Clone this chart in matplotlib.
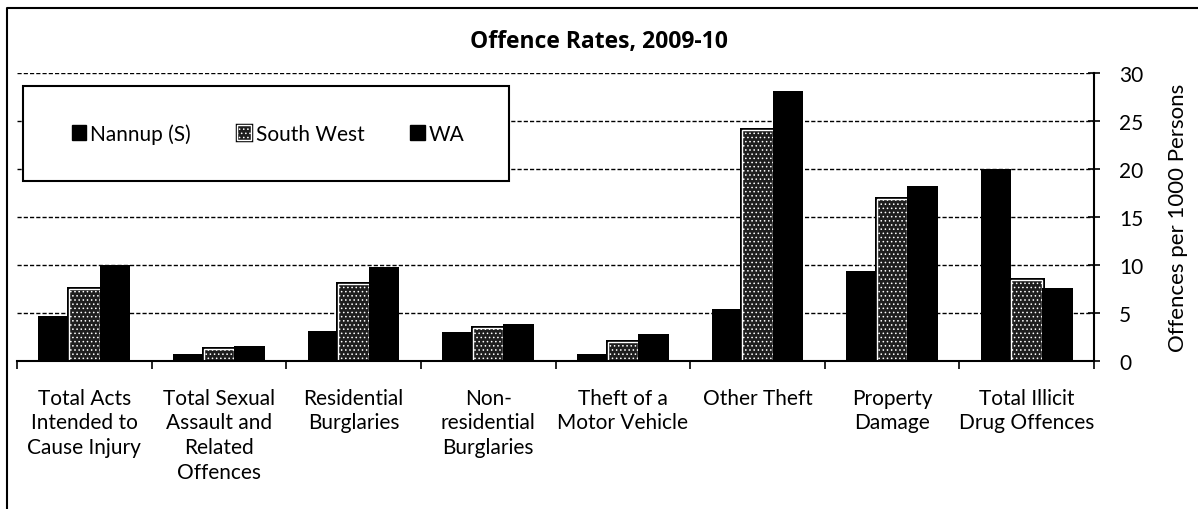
import matplotlib
matplotlib.use("Agg")
import matplotlib.pyplot as plt
import matplotlib.patheffects as pe
from matplotlib.patches import Rectangle, Patch
from matplotlib.lines import Line2D
import numpy as np

plt.rcParams['font.family'] = ['Lato', 'DejaVu Sans']
plt.rcParams['hatch.color'] = '#4a4a4a'
plt.rcParams['hatch.linewidth'] = 0.6

# data
categories = ["Total Acts\nIntended to\nCause Injury",
              "Total Sexual\nAssault and\nRelated\nOffences",
              "Residential\nBurglaries",
              "Non-\nresidential\nBurglaries",
              "Theft of a\nMotor Vehicle",
              "Other Theft",
              "Property\nDamage",
              "Total Illicit\nDrug Offences"]
nannup = [4.75, 0.76, 3.2, 3.1, 0.8, 5.4, 9.4, 20.0]
south_west = [7.5, 1.3, 8.05, 3.45, 2.05, 24.1, 16.85, 8.5]
wa = [10.0, 1.6, 9.8, 3.85, 2.8, 28.1, 18.2, 7.65]
yticks = [0, 5, 10, 15, 20, 25, 30]

W, H = 1198, 510
fig = plt.figure(figsize=(W / 100, H / 100), dpi=100)
ax = fig.add_axes([17 / W, 1 - 362.3 / H, 1077 / W, 288.3 / H])

x = np.arange(len(categories))
bw = 0.227

ax.bar(x - bw, nannup, bw, color='black', zorder=3, label='Nannup (S)')
sw = ax.bar(x, south_west, bw, facecolor='#1e1e1e', edgecolor='white',
            linewidth=1.0, hatch='....', zorder=3, label='South West')
for b in sw:
    b.set_path_effects([pe.Stroke(linewidth=3.6, foreground='black'), pe.Normal()])
ax.bar(x + bw, wa, bw, color='black', zorder=3, label='WA')

ax.set_xlim(-0.5, len(categories) - 0.5)
ax.set_ylim(0, 30)

# axes styling
for s in ['left', 'top']:
    ax.spines[s].set_visible(False)
ax.spines['bottom'].set_linewidth(1.5)
ax.spines['right'].set_linewidth(1.5)
ax.spines['bottom'].set_zorder(4)

ax.yaxis.tick_right()
ax.yaxis.set_label_position('right')
ax.set_yticks(yticks)
ax.tick_params(axis='y', direction='inout', length=8, width=1.2, labelsize=15, pad=14)
ax.set_ylabel('Offences per 1000 Persons', fontsize=16, labelpad=18)

ax.set_xticks(x)
ax.set_xticklabels(categories, fontsize=15, linespacing=1.3, va='top')
ax.tick_params(axis='x', which='major', length=0, pad=19)
ax.set_xticks(np.arange(-0.5, len(categories)), minor=True)
ax.tick_params(axis='x', which='minor', direction='out', length=6, width=1.2)

ax.yaxis.grid(True, color='black', linestyle=(0, (3, 1.5)), linewidth=1.0)
ax.set_axisbelow(True)

# legend box
x0 = (23 - 17) / 1077
x1 = (509 - 17) / 1077
y1 = (362.3 - 87) / 288.3
y0 = (362.3 - 182) / 288.3
ax.add_patch(Rectangle((x0, y0), x1 - x0, y1 - y0, transform=ax.transAxes,
                       facecolor='white', edgecolor='black', linewidth=1.5,
                       zorder=5, clip_on=False))
handles = [Patch(facecolor='black', edgecolor='black'),
           Patch(facecolor='#1e1e1e', edgecolor='white', hatch='....',
                 path_effects=[pe.Stroke(linewidth=2.5, foreground='black'), pe.Normal()]),
           Patch(facecolor='black', edgecolor='black')]
leg = ax.legend(handles, ['Nannup (S)', 'South West', 'WA'], ncol=3, frameon=False,
                loc='center', bbox_to_anchor=((x0 + x1) / 2 + 0.002, (y0 + y1) / 2),
                fontsize=15, handlelength=0.7, handleheight=0.7,
                handletextpad=0.2, columnspacing=2.2)
leg.set_zorder(6)

fig.text(0.5, 1 - 42 / H, 'Offence Rates, 2009-10', ha='center', va='center',
         fontsize=16.5, fontweight='bold', family=['Open Sans', 'DejaVu Sans'])

# outer chart border
fig.add_artist(Line2D([7 / W, 7 / W, 1], [0, 1 - 9 / H, 1 - 9 / H],
                      transform=fig.transFigure, color='black', linewidth=1.5))

fig.savefig('out.png', dpi=100)
